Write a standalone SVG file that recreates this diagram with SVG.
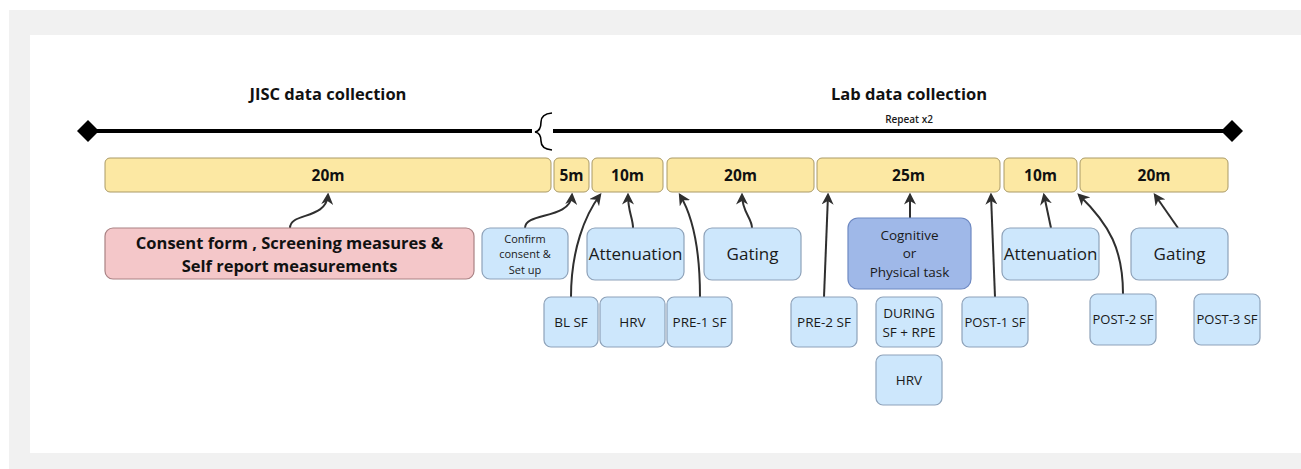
<svg xmlns="http://www.w3.org/2000/svg" width="1301" height="469" viewBox="0 0 1301 469">
<defs>
<marker id="ah" viewBox="0 0 10 10" refX="8" refY="5" markerWidth="12" markerHeight="12" orient="auto" markerUnits="userSpaceOnUse">
<path d="M0,0 L10,5 L0,10 L3,5 Z" fill="#2f2f2f"/>
</marker>
<style>
.bar{fill:#fce8a3;stroke:#aa9a66;stroke-width:1}
.bt{font-family:"Open Sans","Liberation Sans",sans-serif;font-weight:bold;font-size:15.5px;fill:#111;text-anchor:middle}
.bx{fill:#cde7fc;stroke:#8ea2b9;stroke-width:1.2}
.tx{font-family:"Open Sans","Liberation Sans",sans-serif;font-size:13.5px;fill:#1a1a1a;text-anchor:middle}
.big{font-size:17px}
.sm{font-size:11px}
.title{font-family:"Open Sans","Liberation Sans",sans-serif;font-weight:bold;font-size:16.5px;fill:#111;text-anchor:middle}
.con{fill:none;stroke:#2f2f2f;stroke-width:2;marker-end:url(#ah)}
</style>
</defs>
<rect x="0" y="0" width="1301" height="469" fill="#ffffff"/>
<rect x="9" y="10" width="1292" height="459" fill="#f1f1f1"/>
<rect x="30" y="35" width="1271" height="418" fill="#ffffff"/>

<g id="titles">
<text class="title" x="328" y="100">JISC data collection</text>
<text class="title" x="909" y="100">Lab data collection</text>
<text class="tx" x="909" y="123" style="font-size:10px;font-weight:600">Repeat x2</text>
</g>

<g id="timeline">
<line x1="88" y1="131" x2="532" y2="131" stroke="#000" stroke-width="4"/>
<line x1="553" y1="131" x2="1232" y2="131" stroke="#000" stroke-width="4"/>
<path d="M552,113 Q541,114 541,122 Q541,131 535,132 Q541,133 541,141 Q541,149 552,150" fill="none" stroke="#000" stroke-width="1.6"/>
<path d="M77,131 L88,120 L99,131 L88,142 Z" fill="#000"/>
<path d="M1221,131 L1232,120 L1243,131 L1232,142 Z" fill="#000"/>
</g>

<g id="bars">
<g id="bar1"><rect class="bar" x="105" y="158" width="446" height="34" rx="5"/><text class="bt" x="328" y="181">20m</text></g>
<g id="bar2"><rect class="bar" x="554" y="158" width="35" height="34" rx="5"/><text class="bt" x="571.5" y="181">5m</text></g>
<g id="bar3"><rect class="bar" x="592" y="158" width="71" height="34" rx="5"/><text class="bt" x="627.5" y="181">10m</text></g>
<g id="bar4"><rect class="bar" x="667" y="158" width="147" height="34" rx="5"/><text class="bt" x="740.5" y="181">20m</text></g>
<g id="bar5"><rect class="bar" x="817" y="158" width="183" height="34" rx="5"/><text class="bt" x="908.5" y="181">25m</text></g>
<g id="bar6"><rect class="bar" x="1004" y="158" width="73" height="34" rx="5"/><text class="bt" x="1040.5" y="181">10m</text></g>
<g id="bar7"><rect class="bar" x="1080" y="158" width="148" height="34" rx="5"/><text class="bt" x="1154" y="181">20m</text></g>
</g>

<g id="connectors">
<path class="con" d="M290,228 C290,212 326,220 328,195"/>
<path class="con" d="M525,228 C525,212 570,220 572,195"/>
<path class="con" d="M571,297 C571,250 585,215 600,195"/>
<path class="con" d="M633,228 C633,218 628,212 628,195"/>
<path class="con" d="M700,297 C700,250 692,215 680,195"/>
<path class="con" d="M752,228 C752,218 742,212 742,195"/>
<path class="con" d="M824,297 L828,195"/>
<path class="con" d="M910,218 L910,195"/>
<path class="con" d="M995,297 L991,195"/>
<path class="con" d="M1051,228 L1044,195"/>
<path class="con" d="M1123,294 C1123,250 1110,225 1079,195"/>
<path class="con" d="M1178,228 L1155,195"/>
</g>

<g id="consent"><rect x="105" y="228" width="369" height="51" rx="8" fill="#f4c7c9" stroke="#a98284" stroke-width="1.2"/>
<text class="bt" x="289.5" y="249" style="font-size:16.5px">Consent form , Screening measures &amp;</text>
<text class="bt" x="289.5" y="272" style="font-size:16.5px">Self report measurements</text></g>
<g id="confirm"><rect class="bx" x="482" y="228" width="86" height="51" rx="8"/>
<text class="tx sm" x="525" y="243">Confirm</text><text class="tx sm" x="525" y="258">consent &amp;</text><text class="tx sm" x="525" y="274">Set up</text></g>
<g id="att1"><rect class="bx" x="587" y="228" width="97" height="52" rx="8"/><text class="tx big" x="635.5" y="260">Attenuation</text></g>
<g id="gat1"><rect class="bx" x="704" y="228" width="97" height="52" rx="8"/><text class="tx big" x="752.5" y="260">Gating</text></g>
<g id="task"><rect x="848" y="218" width="123" height="71" rx="10" fill="#9fb8e8" stroke="#6e89c2" stroke-width="1.2"/>
<text class="tx" x="909.5" y="240">Cognitive</text><text class="tx" x="909.5" y="258">or</text><text class="tx" x="909.5" y="277">Physical task</text></g>
<g id="att2"><rect class="bx" x="1002" y="228" width="97" height="52" rx="8"/><text class="tx big" x="1050.5" y="260">Attenuation</text></g>
<g id="gat2"><rect class="bx" x="1131" y="228" width="97" height="52" rx="8"/><text class="tx big" x="1179.5" y="260">Gating</text></g>

<g id="blsf"><rect class="bx" x="544" y="297" width="54" height="50" rx="7"/><text class="tx" x="571" y="327">BL SF</text></g>
<g id="hrv1"><rect class="bx" x="600" y="297" width="65" height="50" rx="7"/><text class="tx" x="632.5" y="327">HRV</text></g>
<g id="pre1"><rect class="bx" x="667" y="297" width="65" height="50" rx="7"/><text class="tx" x="699.5" y="327">PRE-1 SF</text></g>
<g id="pre2"><rect class="bx" x="791" y="297" width="66" height="50" rx="7"/><text class="tx" x="824" y="327">PRE-2 SF</text></g>
<g id="during"><rect class="bx" x="876" y="297" width="66" height="50" rx="7"/><text class="tx" x="909" y="318">DURING</text><text class="tx" x="909" y="337">SF + RPE</text></g>
<g id="hrv2"><rect class="bx" x="876" y="355" width="66" height="50" rx="7"/><text class="tx" x="909" y="385">HRV</text></g>
<g id="post1"><rect class="bx" x="962" y="297" width="66" height="50" rx="7"/><text class="tx" x="995" y="327" style="font-size:13px">POST-1 SF</text></g>
<g id="post2"><rect class="bx" x="1090" y="294" width="66" height="51" rx="7"/><text class="tx" x="1123" y="324" style="font-size:13px">POST-2 SF</text></g>
<g id="post3"><rect class="bx" x="1194" y="294" width="66" height="51" rx="7"/><text class="tx" x="1227" y="324" style="font-size:13px">POST-3 SF</text></g>
</svg>
